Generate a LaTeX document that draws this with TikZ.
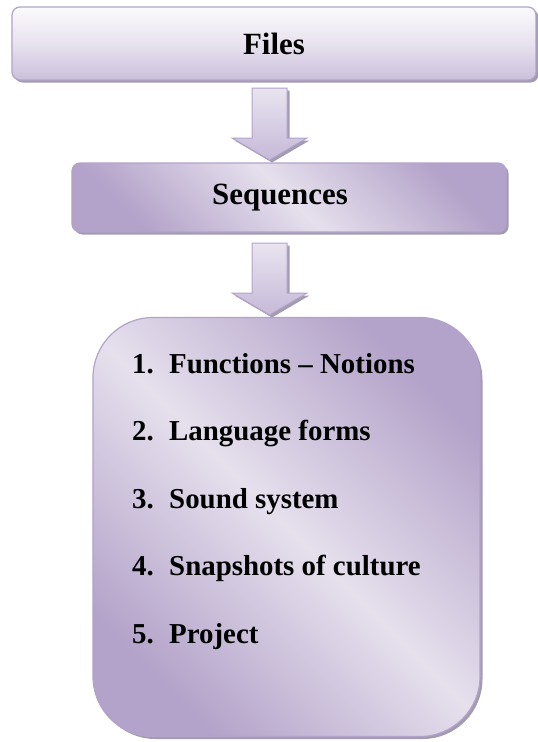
\documentclass[tikz,border=0pt]{standalone}
\usepackage{fontspec}
\setmainfont{Liberation Serif}
\usetikzlibrary{shadows}
\definecolor{edgec}{HTML}{B2A3CB}
\definecolor{darkc}{HTML}{B3A2C9}
\definecolor{lightc}{HTML}{E6E0ED}
\definecolor{filetop}{HTML}{FBFAFC}
\definecolor{filebot}{HTML}{CBBFDB}
\definecolor{arrtop}{HTML}{E9E4F0}
\definecolor{arrbot}{HTML}{C6B9D8}
\definecolor{shadc}{HTML}{A39CAE}
\tikzset{
  x=1bp, y=1bp,
  sh/.style={drop shadow={shadow xshift=2.5bp, shadow yshift=-2.5bp, fill=shadc, opacity=1}},
  headtext/.style={font=\bfseries\fontsize{31}{31}\selectfont, text=black},
  itemtext/.style={font=\bfseries\fontsize{29}{29}\selectfont, text=black, anchor=base west, inner sep=0pt},
  filesbox/.style={sh, draw=edgec, line width=1.2bp, rounded corners=8bp,
    top color=filetop, bottom color=filebot, middle color=filetop!60!filebot,
    minimum width=524bp, minimum height=73bp, inner sep=0pt},
  seqbox/.style={sh, draw=edgec, line width=1.2bp, rounded corners=8bp,
    top color=darkc, bottom color=darkc, middle color=lightc, shading angle=-45,
    minimum width=434bp, minimum height=69bp, inner sep=0pt},
  listbox/.style={sh, draw=edgec, line width=1.2bp, rounded corners=60bp,
    top color=darkc, bottom color=darkc, middle color=lightc, shading angle=-45,
    minimum width=387bp, minimum height=419bp, inner sep=0pt},
  arrowshape/.style={sh, draw=edgec, line width=1bp, top color=arrtop, bottom color=arrbot},
  blockarrow/.pic={
    \path[arrowshape] (-17.5,0) -- (17.5,0) -- (17.5,-50) -- (37.5,-50) -- (0,-72)
      -- (-37.5,-50) -- (-17.5,-50) -- cycle;
  }
}
\begin{document}
\begin{tikzpicture}
\useasboundingbox (0,0) rectangle (538,-742);
\node[filesbox, headtext] (files) at (274,-43.5) {Files};
\node[seqbox, headtext] (seq) at (289,-197.5) {\hspace*{-18bp}Sequences};
\node[listbox] (list) at (286.5,-527) {};
\pic at (269.5,-88) {blockarrow};
\pic at (269.5,-243) {blockarrow};
\node[itemtext] (n1) at (132,-373) {1.};
\node[itemtext] (t1) at (169,-373) {Functions – Notions};
\node[itemtext] (n2) at (132,-440.5) {2.};
\node[itemtext] (t2) at (169,-440.5) {Language forms};
\node[itemtext] (n3) at (132,-508) {3.};
\node[itemtext] (t3) at (169,-508) {Sound system};
\node[itemtext] (n4) at (132,-575.5) {4.};
\node[itemtext] (t4) at (169,-575.5) {Snapshots of culture};
\node[itemtext] (n5) at (132,-643) {5.};
\node[itemtext] (t5) at (169,-643) {Project};
\end{tikzpicture}
\end{document}
